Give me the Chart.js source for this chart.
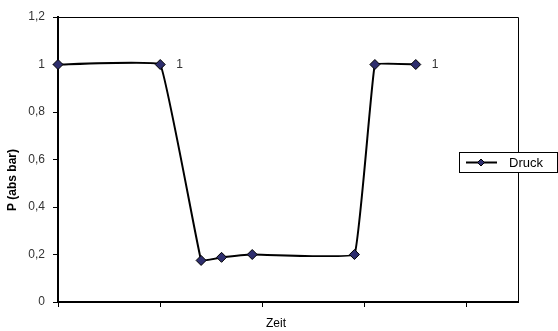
<!DOCTYPE html>
<html>
<head>
<meta charset="utf-8">
<script src="https://cdn.jsdelivr.net/npm/chart.js@4/dist/chart.umd.min.js"></script>
<style>
html,body{margin:0;padding:0;background:#fff;}
#wrap{width:558px;height:331px;position:relative;}
</style>
</head>
<body>
<div id="wrap"><canvas id="c" width="558" height="331"></canvas></div>
<script>
// Data
const zeit = [0, 10, 14, 16, 19, 29, 31, 35];
const druck = [1, 1, 0.175, 0.188, 0.2, 0.2, 1, 1];
const labelledPoints = [1, 7]; // indices carrying the data label "1"
const yTickLabels = {0: '0', 2: '0,2', 4: '0,4', 6: '0,6', 8: '0,8', 10: '1', 12: '1,2'};
const seriesName = 'Druck';
const xTitle = 'Zeit';
const yTitle = 'P (abs bar)';

const FONT = 'Arial, "Liberation Sans", sans-serif';
const points = zeit.map((x, i) => ({x: x, y: druck[i]}));

const decor = {
  id: 'decor',
  afterDatasetsDraw(chart) {
    const ctx = chart.ctx;
    const a = chart.chartArea;
    ctx.save();
    // top and right frame
    ctx.strokeStyle = '#000';
    ctx.lineWidth = 1;
    ctx.beginPath();
    ctx.moveTo(a.left, a.top + 0.5);
    ctx.lineTo(a.right + 0.5, a.top + 0.5);
    ctx.lineTo(a.right + 0.5, a.bottom);
    ctx.stroke();
    // data labels
    const meta = chart.getDatasetMeta(0);
    ctx.fillStyle = '#333';
    ctx.font = '12px ' + FONT;
    ctx.textBaseline = 'middle';
    ctx.textAlign = 'left';
    labelledPoints.forEach(i => {
      const el = meta.data[i];
      const v = druck[i];
      ctx.fillText(String(v).replace('.', ','), el.x + 16, el.y);
    });
    // axis titles
    ctx.fillStyle = '#000';
    ctx.font = '12px ' + FONT;
    ctx.textAlign = 'center';
    ctx.fillText(xTitle, 276, 324);
    ctx.save();
    ctx.translate(13, 180);
    ctx.rotate(-Math.PI / 2);
    ctx.font = 'bold 12px ' + FONT;
    ctx.fillText(yTitle, 0, 0);
    ctx.restore();
    // legend
    const lx = 459.5, ly = 152.5, lw = 98, lh = 20;
    ctx.fillStyle = '#fff';
    ctx.fillRect(lx, ly, lw, lh);
    ctx.strokeStyle = '#000';
    ctx.lineWidth = 1;
    ctx.strokeRect(lx, ly, lw, lh);
    const cy = ly + lh / 2;
    ctx.lineWidth = 2;
    ctx.beginPath();
    ctx.moveTo(466, cy);
    ctx.lineTo(497, cy);
    ctx.stroke();
    ctx.fillStyle = '#2e2e6e';
    ctx.lineWidth = 1;
    ctx.beginPath();
    ctx.moveTo(481, cy - 3.5);
    ctx.lineTo(484.5, cy);
    ctx.lineTo(481, cy + 3.5);
    ctx.lineTo(477.5, cy);
    ctx.closePath();
    ctx.fill();
    ctx.stroke();
    ctx.fillStyle = '#000';
    ctx.textAlign = 'left';
    ctx.font = '13px ' + FONT;
    ctx.fillText(seriesName, 509, cy + 0.5);
    ctx.restore();
  }
};

new Chart(document.getElementById('c'), {
  type: 'scatter',
  data: {
    datasets: [{
      label: seriesName,
      data: points,
      showLine: true,
      borderColor: '#000',
      borderWidth: 2,
      tension: 0.06,
      pointStyle: 'rectRot',
      pointRadius: 5,
      pointBackgroundColor: '#2e2e6e',
      pointBorderColor: '#000',
      pointBorderWidth: 1,
      clip: false
    }]
  },
  options: {
    responsive: false,
    animation: false,
    layout: {padding: {left: 0, top: 17, right: 40, bottom: 0}},
    plugins: {legend: {display: false}, tooltip: {enabled: false}},
    scales: {
      x: {
        type: 'linear',
        min: 0, max: 45,
        afterFit(s) { s.height = 29; },
        afterBuildTicks(s) { s.ticks = s.ticks.filter(t => t.value <= 40); },
        ticks: {stepSize: 10, display: false},
        grid: {drawOnChartArea: false, drawTicks: true, tickLength: 5, color: '#000', lineWidth: 1},
        border: {display: true, color: '#000', width: 2}
      },
      y: {
        min: 0, max: 1.2,
        afterFit(s) { s.width = 58; },
        ticks: {
          stepSize: 0.2,
          padding: 8,
          color: '#333',
          font: {family: FONT, size: 12},
          callback: (v) => yTickLabels[Math.round(v * 10)]
        },
        grid: {drawOnChartArea: false, drawTicks: true, tickLength: 5, color: '#000', lineWidth: 1},
        border: {display: true, color: '#000', width: 2}
      }
    }
  },
  plugins: [decor]
});
</script>
</body>
</html>
